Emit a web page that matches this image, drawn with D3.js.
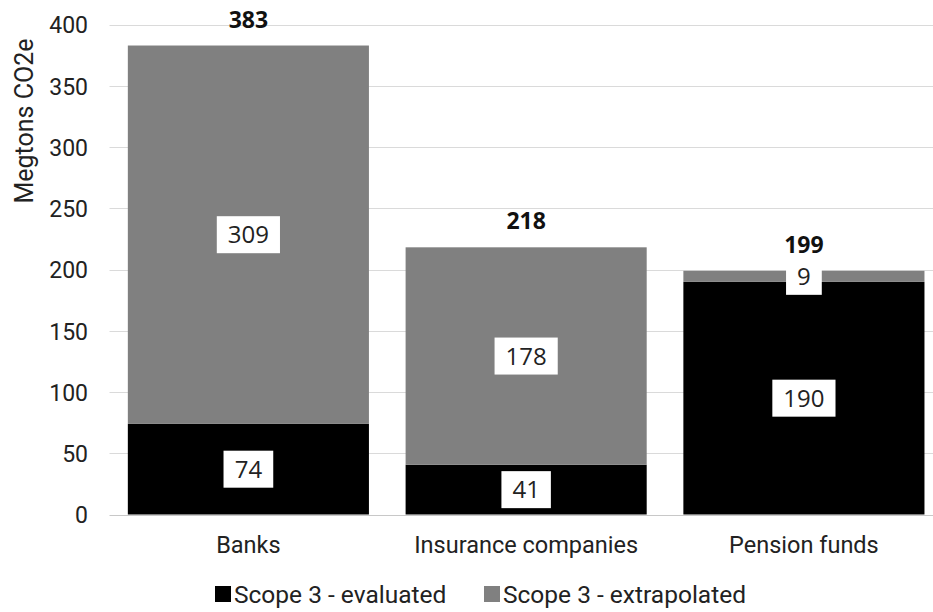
<!DOCTYPE html>
<html>
<head>
<meta charset="utf-8">
<script src="https://cdn.jsdelivr.net/npm/d3@7"></script>
<style>
  html, body { margin: 0; padding: 0; background: #fff; }
  svg { display: block; }
</style>
</head>
<body>
<svg id="chart" width="933" height="612"></svg>
<script>
const categories = ["Banks", "Insurance companies", "Pension funds"];
const evaluated = [74, 40.6, 190];
const extrapolated = [309, 177.6, 9];
const seriesNames = ["Scope 3 - evaluated", "Scope 3 - extrapolated"];
const seriesColors = ["#000000", "#808080"];
const yTicks = [0, 50, 100, 150, 200, 250, 300, 350, 400];

const svg = d3.select("#chart");
const W = 933, H = 612;
const plotTop = 24.7, plotBottom = 514.5, plotLeft = 109.5, plotRightBand = 942.8;

const x = d3.scaleBand().domain(categories).range([plotLeft, plotRightBand])
  .paddingInner(0.132).paddingOuter(0.066);
const y = d3.scaleLinear().domain([0, 400]).range([plotBottom, plotTop]);

// gridlines
const grid = svg.append("g").attr("class", "grid");
grid.selectAll("line").data(yTicks).join("line")
  .attr("x1", plotLeft).attr("x2", W)
  .attr("y1", d => Math.round(y(d)) + 0.5).attr("y2", d => Math.round(y(d)) + 0.5)
  .attr("stroke", d => d === 0 ? "#c8c8c8" : "#dadada")
  .attr("stroke-width", 1);

// y axis labels
const yAxis = d3.axisLeft(y).tickValues(yTicks).tickSize(0).tickPadding(0);
const yg = svg.append("g").attr("transform", `translate(88,0)`).call(yAxis);
yg.select(".domain").remove();
yg.selectAll("text")
  .attr("font-family", "Roboto, sans-serif").attr("font-size", 23)
  .attr("fill", "#222").attr("dy", "0.36em");

// axis title
svg.append("text")
  .attr("transform", `translate(33,121) rotate(-90)`)
  .attr("text-anchor", "middle")
  .attr("font-family", "Roboto, sans-serif").attr("font-size", 25)
  .attr("fill", "#222")
  .text("Megtons CO2e");

// stacked data
const rows = categories.map((c, i) => ({ cat: c, evaluated: evaluated[i], extrapolated: extrapolated[i] }));
const stack = d3.stack().keys(["evaluated", "extrapolated"]);
const stacked = stack(rows);

const barsG = svg.append("g");
stacked.forEach((layer, li) => {
  barsG.append("g").attr("fill", seriesColors[li])
    .selectAll("rect").data(layer).join("rect")
    .attr("x", d => x(d.data.cat))
    .attr("width", x.bandwidth())
    .attr("y", d => y(d[1]))
    .attr("height", d => y(d[0]) - y(d[1]));
});

// segment labels with white boxes
const labelG = svg.append("g");
stacked.forEach((layer, li) => {
  layer.forEach(d => {
    const val = d[1] - d[0];
    const cx = x(d.data.cat) + x.bandwidth() / 2;
    const cy = y((d[0] + d[1]) / 2);
    const g = labelG.append("g");
    const t = g.append("text")
      .attr("x", cx).attr("y", cy).attr("dy", "0.36em")
      .attr("text-anchor", "middle")
      .attr("font-family", "'Open Sans', sans-serif").attr("font-size", 24)
      .attr("fill", "#222")
      .text(d3.format(".0f")(val));
    const bb = t.node().getBBox();
    const padX = 11, h = 37;
    g.insert("rect", "text")
      .attr("x", cx - bb.width / 2 - padX).attr("y", cy - h / 2)
      .attr("width", bb.width + 2 * padX).attr("height", h)
      .attr("fill", "#fff");
  });
});

// totals
svg.append("g").selectAll("text").data(rows).join("text")
  .attr("x", d => x(d.cat) + x.bandwidth() / 2)
  .attr("y", d => y(d.evaluated + d.extrapolated) - 18)
  .attr("text-anchor", "middle")
  .attr("font-family", "'Open Sans', sans-serif").attr("font-weight", "bold").attr("font-size", 23)
  .attr("fill", "#111")
  .text(d => d3.format(".0f")(d.evaluated + d.extrapolated));

// x axis labels
const xAxis = d3.axisBottom(x).tickSize(0).tickPadding(0);
const xg = svg.append("g").attr("transform", `translate(0,${plotBottom})`).call(xAxis);
xg.select(".domain").remove();
xg.selectAll("text")
  .attr("font-family", "Roboto, sans-serif").attr("font-size", 23.5)
  .attr("fill", "#222").attr("dy", null).attr("y", 38.5);

// legend
const legendX = [215, 484];
const legend = svg.append("g");
seriesNames.forEach((name, i) => {
  legend.append("rect")
    .attr("x", legendX[i]).attr("y", 586).attr("width", 16).attr("height", 16)
    .attr("fill", seriesColors[i]);
  legend.append("text")
    .attr("x", legendX[i] + 19).attr("y", 603)
    .attr("font-family", "Roboto, sans-serif").attr("font-size", 24.5)
    .attr("fill", "#222")
    .text(name);
});
</script>
</body>
</html>
